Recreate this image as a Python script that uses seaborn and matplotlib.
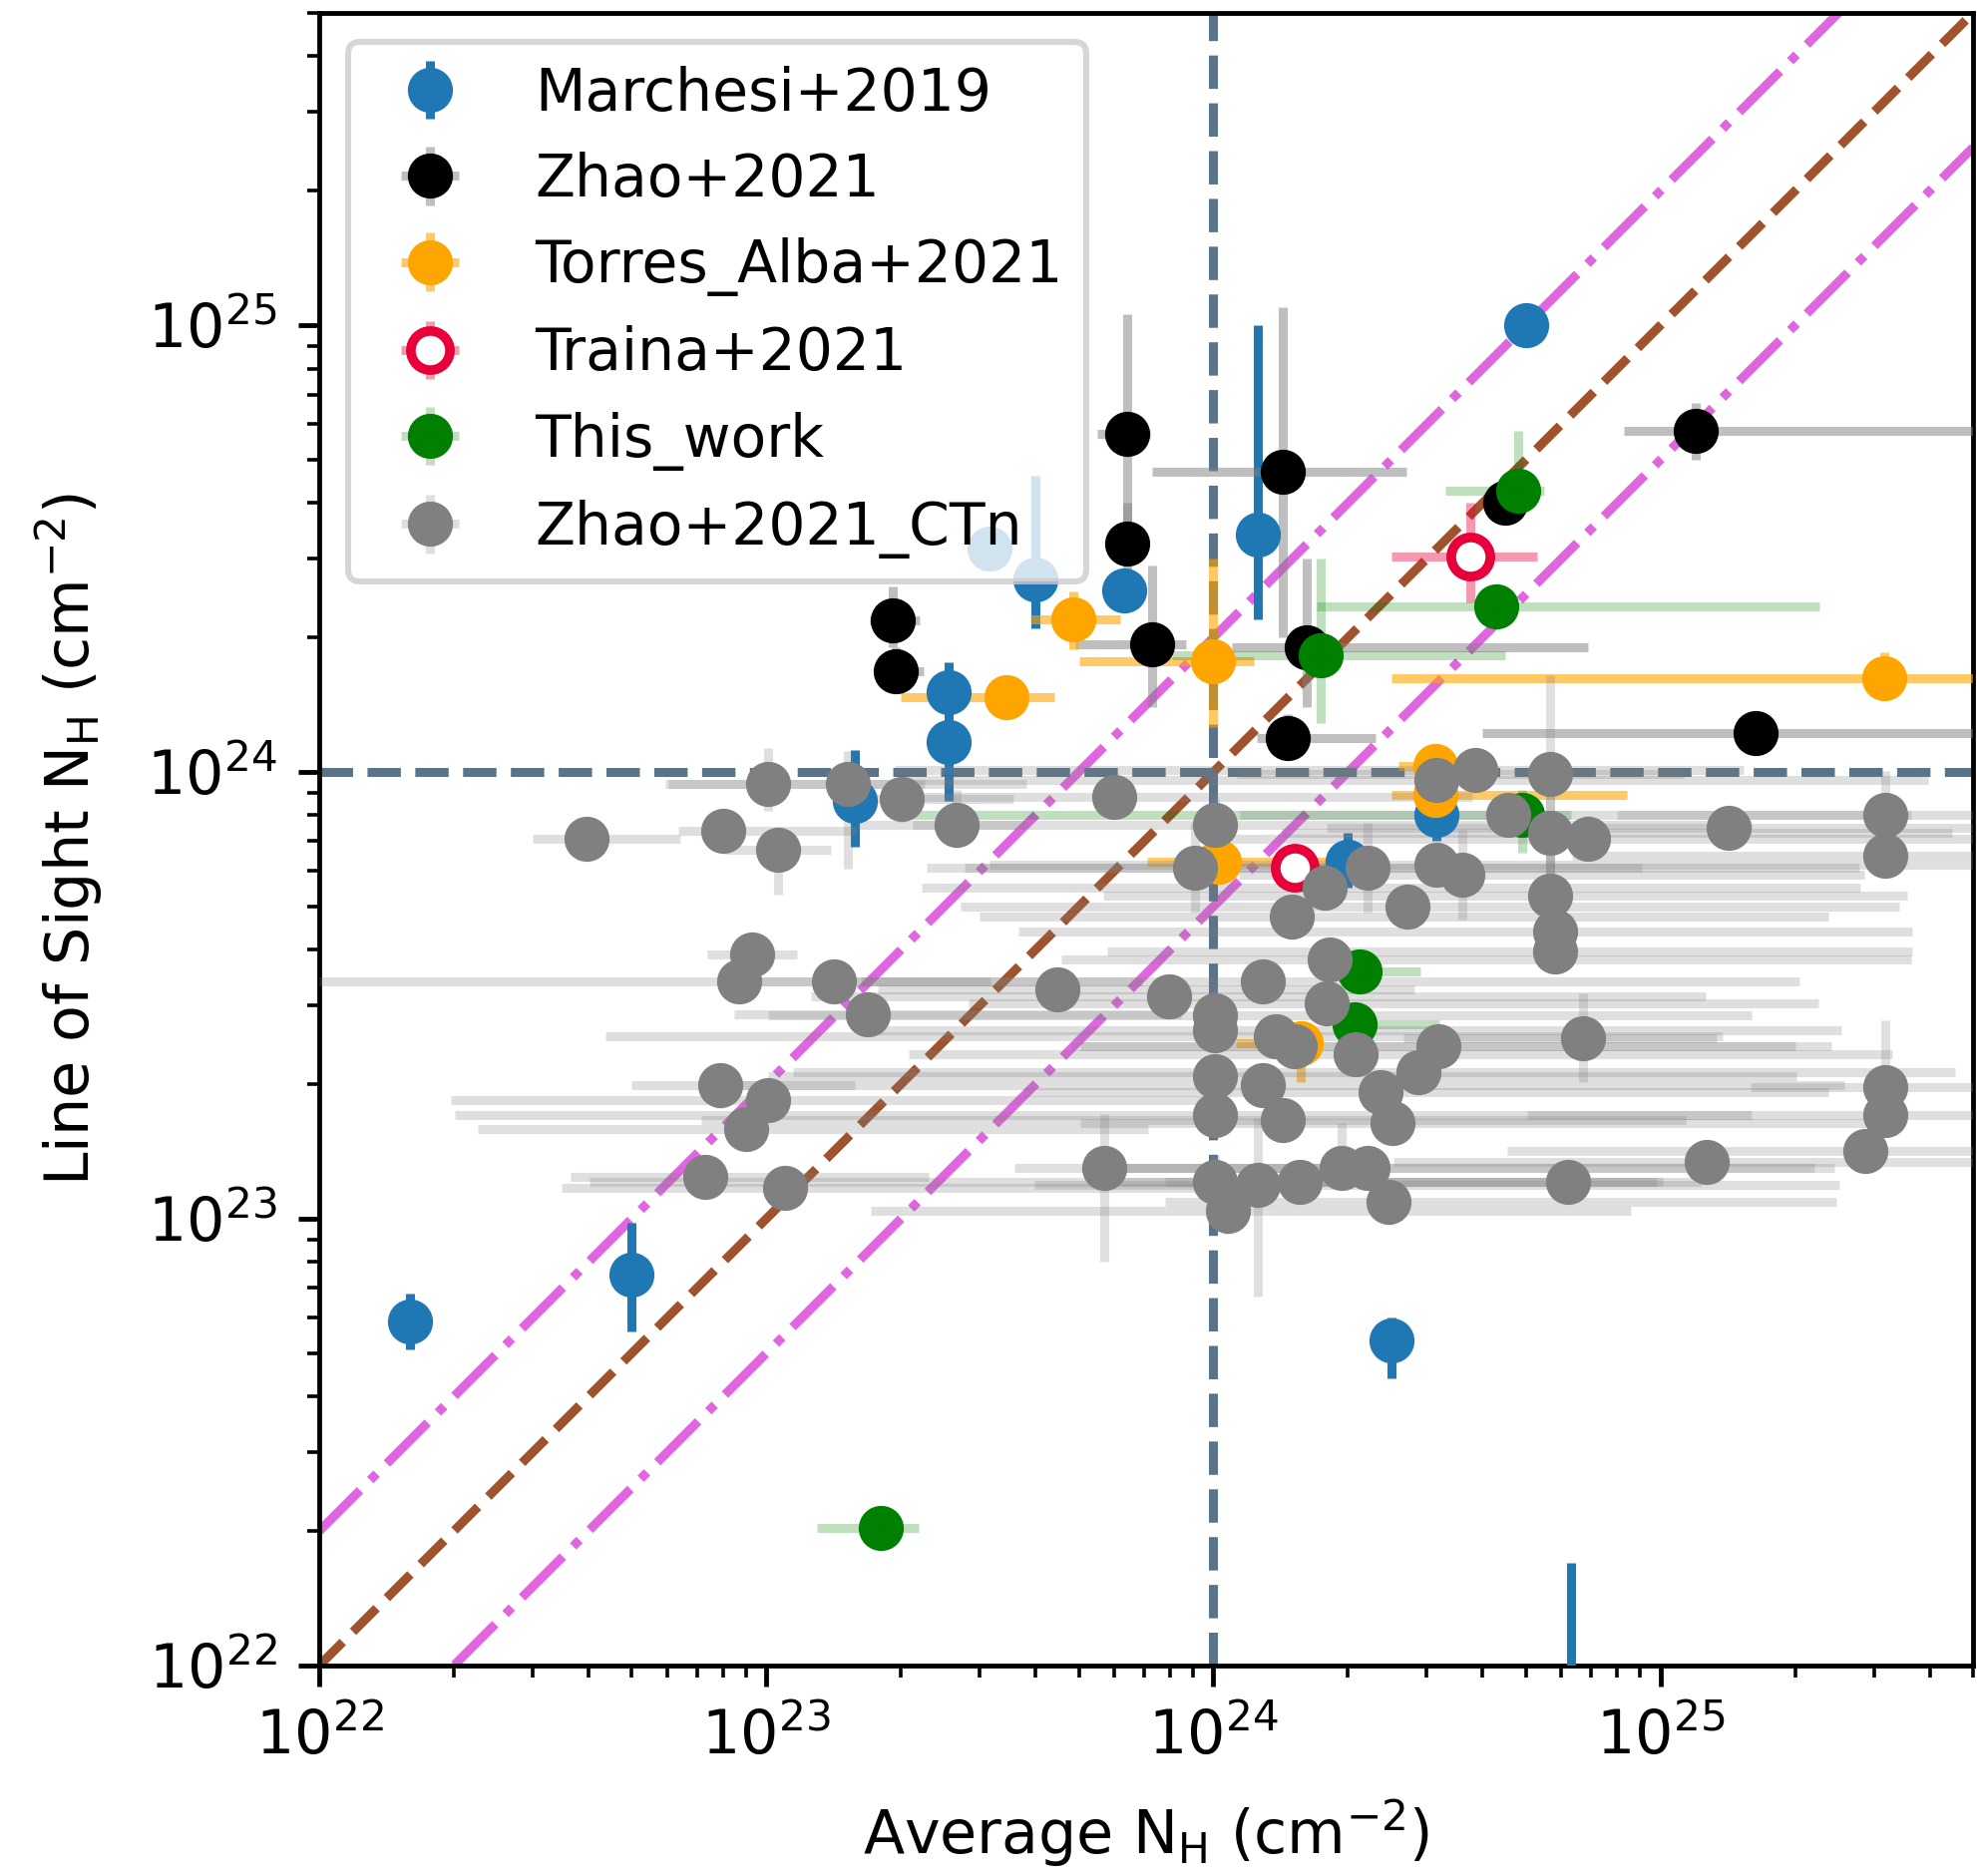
import numpy as np
import pandas as pd
import matplotlib
matplotlib.use('Agg')
import matplotlib.pyplot as plt
import seaborn as sns

# ---- Marchesi+2019 (only y errors) ----
mar_x = [1.6e22, 5.0e22, 2.5e24, 6.3e24, 5.0e24, 1.26e24, 6.3e23, 2.56e23, 2.56e23, 1.58e23, 3.16e23, 4.0e23, 2.0e24, 3.16e24]
mar_y = [5.9e22, 7.5e22, 5.35e22, 6e21, 1.0e25, 3.4e24, 2.55e24, 1.51e24, 1.17e24, 8.6e23, 3.16e24, 2.7e24, 6.3e23, 8.0e23]
mar_ylo = [5.1e22, 5.6e22, 4.4e22, 3e21, 1.0e25, 2.2e24, 2.4e24, 1.3e24, 8.6e23, 6.8e23, 3.0e24, 2.1e24, 5.5e23, 7.0e23]
mar_yhi = [6.8e22, 9.8e22, 6.0e22, 1.7e22, 1.0e25, 1.0e25, 2.7e24, 1.76e24, 1.4e24, 1.12e24, 3.3e24, 4.6e24, 7.3e23, 9.0e23]

# ---- Zhao+2021 ----
zha_x = [6.4e23, 6.4e23, 1.43e24, 1.92e23, 1.95e23, 7.3e23, 1.62e24, 1.47e24, 4.49e24, 1.2e25, 1.63e25]
zha_y = [5.7e24, 3.24e24, 4.7e24, 2.18e24, 1.68e24, 1.93e24, 1.9e24, 1.19e24, 4.0e24, 5.8e24, 1.22e24]
zha_xlo = [5.5e23, 6.0e23, 7.3e23, 1.7e23, 1.75e23, 4.9e23, 1.1e24, 1.25e24, 4.2e24, 8.3e24, 4.0e24]
zha_xhi = [7.2e23, 6.9e23, 2.7e24, 2.2e23, 2.25e23, 8.7e23, 6.9e24, 2.3e24, 4.8e24, 8e25, 8e25]
zha_ylo = [3.3e24, 2.6e24, 2.0e24, 1.9e24, 1.5e24, 1.4e24, 1.4e24, 1.1e24, 3.7e24, 5.0e24, 1.15e24]
zha_yhi = [1.06e25, 4.0e24, 1.1e25, 2.6e24, 1.9e24, 2.9e24, 3.0e24, 1.35e24, 4.3e24, 6.7e24, 1.3e24]

# ---- Torres_Alba+2021 ----
tor_x = [4.87e23, 3.44e23, 1.0e24, 1.03e24, 3.16e25, 3.13e24, 3.13e24, 1.57e24]
tor_y = [2.2e24, 1.47e24, 1.77e24, 6.3e23, 1.62e24, 1.03e24, 8.9e23, 2.47e23]
tor_xlo = [3.9e23, 2.0e23, 5.0e23, 7.1e23, 2.5e24, 2.6e24, 2.5e24, 1.12e24]
tor_xhi = [6.2e23, 4.4e23, 1.23e24, 1.86e24, 8e25, 3.7e24, 8.4e24, 1.66e24]
tor_ylo = [1.88e24, 1.40e24, 1.26e24, 5.9e23, 1.5e24, 9.7e23, 8.5e23, 2.02e23]
tor_yhi = [2.53e24, 1.55e24, 3.0e24, 6.7e23, 1.85e24, 1.1e24, 9.3e23, 2.7e23]

# ---- Traina+2021 ----
tra_x = [3.76e24, 1.52e24]
tra_y = [3.03e24, 6.1e23]
tra_xlo = [2.5e24, 1.35e24]
tra_xhi = [5.3e24, 1.7e24]
tra_ylo = [2.4e24, 5.8e23]
tra_yhi = [4.0e24, 6.4e23]

# ---- This_work ----
thw_x = [1.8e23, 4.8e24, 4.3e24, 1.74e24, 4.9e24, 2.12e24, 2.07e24]
thw_y = [2.03e22, 4.26e24, 2.35e24, 1.83e24, 8.0e23, 3.58e23, 2.73e23]
thw_xlo = [1.3e23, 3.3e24, 1.7e24, 8.1e23, 2.1e23, 1.9e24, 1.9e24]
thw_xhi = [2.19e23, 5.5e24, 2.27e25, 4.5e24, 6.3e24, 2.9e24, 3.2e24]
thw_ylo = [2.0e22, 3.8e24, 2.2e24, 1.29e24, 6.6e23, 3.4e23, 2.6e23]
thw_yhi = [2.06e22, 5.8e24, 2.5e24, 3.0e24, 9.1e23, 3.8e23, 2.9e23]

# ---- Zhao+2021_CTn (errors in dex) ----
ctn_x = [3.96e22, 8.0e22, 1.01e23, 1.06e23, 1.52e23, 2.01e23, 2.67e23, 9.3e22, 8.7e22, 1.42e23,
         1.69e23, 7.9e22, 1.01e23, 9.0e22, 7.3e22, 1.1e23, 4.47e23, 5.7e23, 6.0e23, 7.96e23,
         9.1e23, 1.01e24, 1.01e24, 1.01e24, 1.01e24, 1.01e24, 1.01e24, 1.08e24, 1.26e24, 1.29e24,
         1.29e24, 1.38e24, 1.43e24, 1.5e24, 1.52e24, 1.56e24, 1.77e24, 1.79e24, 1.82e24, 1.94e24,
         2.08e24, 2.21e24, 2.21e24, 2.37e24, 2.47e24, 2.52e24, 2.72e24, 2.88e24, 3.18e24, 3.16e24,
         3.16e24, 3.6e24, 3.86e24, 4.57e24, 5.66e24, 5.66e24, 6.9e24, 5.66e24, 5.8e24, 5.8e24,
         6.7e24, 6.2e24, 1.27e25, 1.42e25, 2.87e25, 3.18e25, 3.18e25, 3.18e25, 3.18e25]
ctn_y = [7.08e23, 7.4e23, 9.4e23, 6.7e23, 9.4e23, 8.7e23, 7.6e23, 3.9e23, 3.4e23, 3.4e23,
         2.87e23, 1.99e23, 1.84e23, 1.59e23, 1.24e23, 1.17e23, 3.27e23, 1.3e23, 8.8e23, 3.15e23,
         6.1e23, 7.6e23, 2.86e23, 2.64e23, 2.09e23, 1.71e23, 1.21e23, 1.04e23, 1.19e23, 3.4e23,
         1.99e23, 2.56e23, 1.66e23, 4.74e23, 2.43e23, 1.21e23, 5.5e23, 3.03e23, 3.8e23, 1.3e23,
         2.33e23, 6.1e23, 1.3e23, 1.92e23, 1.09e23, 1.64e23, 5.0e23, 2.13e23, 2.43e23, 9.6e23,
         6.2e23, 5.9e23, 1.01e24, 8.0e23, 9.9e23, 7.3e23, 7.1e23, 5.3e23, 4.4e23, 3.97e23,
         2.54e23, 1.21e23, 1.34e23, 7.5e23, 1.42e23, 8.0e23, 6.5e23, 1.97e23, 1.71e23]
ctn_dxlo = [0.12, 0.1, 0.23, 0.12, 0.4, 0.15, 0.1, 0.1, 0.94, 0.25,
            0.3, 0.2, 0.71, 0.6, 0.3, 0.5, 0.4, 0.2, 0.5, 0.8,
            0.6, 0.8, 1.0, 0.8, 1.0, 1.7, 1.4, 0.8, 0.5, 0.9,
            1.2, 1.5, 1.3, 0.7, 0.5, 0.4, 0.9, 0.8, 0.6, 0.5,
            1.0, 0.9, 0.6, 0.8, 0.5, 0.7, 1.0, 1.4, 0.8, 1.2,
            1.0, 0.5, 1.3, 0.6, 0.7, 0.6, 0.8, 1.0, 1.2, 1.0,
            0.4, 0.9, 0.7, 0.9, 0.8, 0.6, 0.7, 0.3, 0.8]
ctn_dxhi = [0.21, 0.3, 0.35, 0.12, 0.4, 0.25, 0.15, 0.1, 0.9, 0.35,
            0.7, 0.3, 1.0, 0.9, 0.5, 1.1, 0.8, 0.6, 0.8, 1.2,
            1.0, 1.2, 1.2, 1.4, 1.3, 1.2, 1.0, 0.9, 1.3, 1.2,
            1.3, 1.0, 0.9, 1.2, 1.2, 0.9, 1.2, 1.1, 1.3, 1.1,
            1.2, 1.1, 1.0, 1.0, 1.0, 1.1, 1.1, 1.2, 0.8, 1.1,
            1.2, 0.9, 0.6, 0.9, 0.3, 0.9, 0.9, 0.8, 0.8, 0.8,
            0.3, 0.2, 0.6, 0.6, 0.3, 0.4, 0.4, 0.4, 0.4]
ctn_dylo = [0.03, 0.04, 0.06, 0.1, 0.19, 0.05, 0.05, 0.03, 0.04, 0.03,
            0.04, 0.05, 0.04, 0.03, 0.03, 0.03, 0.03, 0.21, 0.04, 0.04,
            0.1, 0.06, 0.04, 0.04, 0.04, 0.04, 0.06, 0.05, 0.25, 0.04,
            0.04, 0.04, 0.04, 0.05, 0.04, 0.05, 0.05, 0.04, 0.04, 0.05,
            0.04, 0.1, 0.05, 0.04, 0.05, 0.05, 0.04, 0.04, 0.04, 0.04,
            0.05, 0.1, 0.04, 0.04, 0.22, 0.1, 0.05, 0.1, 0.04, 0.04,
            0.1, 0.04, 0.04, 0.04, 0.04, 0.04, 0.04, 0.04, 0.04]
ctn_dyhi = [0.03, 0.04, 0.08, 0.05, 0.075, 0.05, 0.08, 0.03, 0.04, 0.03,
            0.04, 0.05, 0.04, 0.03, 0.03, 0.03, 0.03, 0.12, 0.04, 0.04,
            0.1, 0.06, 0.04, 0.04, 0.04, 0.04, 0.06, 0.1, 0.15, 0.04,
            0.04, 0.04, 0.04, 0.05, 0.04, 0.05, 0.05, 0.04, 0.04, 0.1,
            0.04, 0.1, 0.05, 0.04, 0.05, 0.05, 0.04, 0.04, 0.04, 0.04,
            0.05, 0.1, 0.04, 0.04, 0.22, 0.1, 0.05, 0.1, 0.04, 0.04,
            0.1, 0.04, 0.04, 0.04, 0.04, 0.1, 0.04, 0.15, 0.04]

# reference lines
ref_x = [1e22, 5e25]
lim = (1e22, 5e25)


def bounds_err(v, lo, hi):
    v, lo, hi = np.array(v), np.array(lo), np.array(hi)
    return np.vstack([v - lo, hi - v])


def dex_err(v, dlo, dhi):
    v = np.array(v)
    return np.vstack([v - v * 10 ** -np.array(dlo), v * 10 ** np.array(dhi) - v])


sns.set_style('ticks', {'axes.edgecolor': 'black', 'xtick.color': 'black', 'ytick.color': 'black',
                        'text.color': 'black', 'axes.labelcolor': 'black'})
plt.rcParams['font.family'] = ['DejaVu Sans']
plt.rcParams.update({'font.size': 10, 'xtick.major.size': 3.5, 'ytick.major.size': 3.5,
                     'xtick.minor.size': 2, 'ytick.minor.size': 2,
                     'xtick.major.width': 0.8, 'ytick.major.width': 0.8,
                     'xtick.minor.width': 0.6, 'ytick.minor.width': 0.6,
                     'axes.linewidth': 0.8, 'legend.fontsize': 9.7})

DPI = 434
fig = plt.figure(figsize=(1982 / DPI, 1881 / DPI), dpi=DPI)
ax = fig.add_axes([320 / 1982, 1 - 1670 / 1881, 1658 / 1982, 1657 / 1881])
ax.set_xscale('log')
ax.set_yscale('log')

ref_x = np.array(ref_x)
sns.lineplot(x=ref_x, y=ref_x, ax=ax, color='sienna', linestyle='--', lw=1.5, zorder=1)
sns.lineplot(x=ref_x, y=2 * ref_x, ax=ax, color='#e066e0', linestyle='-.', lw=1.5, zorder=1)
sns.lineplot(x=ref_x, y=ref_x / 2, ax=ax, color='#e066e0', linestyle='-.', lw=1.5, zorder=1)
ax.axvline(1e24, color='#5b7388', ls='--', lw=1.5, zorder=1)
ax.axhline(1e24, color='#5b7388', ls='--', lw=1.5, zorder=1)

ms = 6.5
ax.errorbar(mar_x, mar_y, yerr=bounds_err(mar_y, mar_ylo, mar_yhi), fmt='o', ms=ms,
            color='#1f77b4', ecolor='#1f77b4', label='Marchesi+2019', zorder=3)
ax.errorbar(zha_x, zha_y, xerr=bounds_err(zha_x, zha_xlo, zha_xhi),
            yerr=bounds_err(zha_y, zha_ylo, zha_yhi), fmt='o', ms=ms,
            color='black', ecolor=(0.5, 0.5, 0.5, 0.5), label='Zhao+2021', zorder=3)
ax.errorbar(tor_x, tor_y, xerr=bounds_err(tor_x, tor_xlo, tor_xhi),
            yerr=bounds_err(tor_y, tor_ylo, tor_yhi), fmt='o', ms=ms,
            color='orange', ecolor=(1.0, 0.647, 0.0, 0.6), label='Torres_Alba+2021', zorder=3)
ax.errorbar(tra_x, tra_y, xerr=bounds_err(tra_x, tra_xlo, tra_xhi),
            yerr=bounds_err(tra_y, tra_ylo, tra_yhi), fmt='o', ms=ms, mfc='white',
            mec='#e8003a', mew=1.6, color='#e8003a', ecolor=(0.91, 0.0, 0.23, 0.4),
            label='Traina+2021', zorder=3)
ax.errorbar(thw_x, thw_y, xerr=bounds_err(thw_x, thw_xlo, thw_xhi),
            yerr=bounds_err(thw_y, thw_ylo, thw_yhi), fmt='o', ms=ms,
            color='green', ecolor=(0.0, 0.5, 0.0, 0.25), label='This_work', zorder=3)
ax.errorbar(ctn_x, ctn_y, xerr=dex_err(ctn_x, ctn_dxlo, ctn_dxhi),
            yerr=dex_err(ctn_y, ctn_dylo, ctn_dyhi), fmt='o', ms=ms,
            color='gray', ecolor=(0.5, 0.5, 0.5, 0.25), label='Zhao+2021_CTn', zorder=3)

ax.set_xlim(lim)
ax.set_ylim(lim)
ax.set_xlabel(r'Average N$_{\rm H}$ (cm$^{-2}$)', labelpad=5)
ax.set_ylabel(r'Line of Sight N$_{\rm H}$ (cm$^{-2}$)', labelpad=7)
ax.legend(loc='upper left', framealpha=0.8)

fig.savefig('out.png', dpi=DPI)
